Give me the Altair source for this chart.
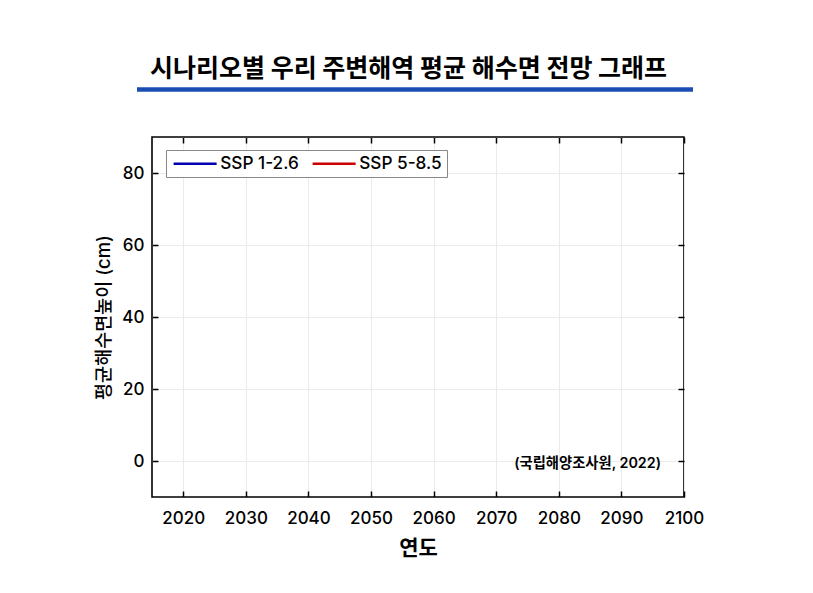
import altair as alt
import pandas as pd

# ---- data (the reference shows an empty plot: no series points are drawn) ----
series = ["SSP 1-2.6", "SSP 5-8.5"]
colors = ["#0000b0", "#cc0000"]
years_126 = []
values_126 = []
years_585 = []
values_585 = []
x_ticks = [2020, 2030, 2040, 2050, 2060, 2070, 2080, 2090, 2100]
y_ticks = [0, 20, 40, 60, 80]
x_domain = [2015, 2100]
y_domain = [-10, 90]

title_text = "시나리오별 우리 주변해역 평균 해수면 전망 그래프"
source_text = "(국립해양조사원, 2022)"

df = pd.DataFrame({
    "year": pd.Series(years_126 + years_585, dtype=float),
    "value": pd.Series(values_126 + values_585, dtype=float),
    "scenario": pd.Series([series[0]] * len(years_126) + [series[1]] * len(years_585), dtype=object),
})

NUM_FONT = "Inter, Noto Sans CJK KR"
KR_FONT = "Noto Sans CJK KR"

xs = alt.Scale(domain=x_domain, nice=False, zero=False)
ys = alt.Scale(domain=y_domain, nice=False, zero=False)

# main layer: lines, grid, labels, titles, legend
lines = alt.Chart(df).mark_line(strokeWidth=2.5).encode(
    x=alt.X("year:Q", scale=xs, axis=alt.Axis(
        orient="bottom", values=x_ticks, grid=True, gridColor="#ebebeb",
        ticks=False, tickSize=0, domain=False, labelFlush=False, labelOverlap=False,
        labelPadding=13, labelFont=NUM_FONT, labelFontSize=17, labelFontWeight=500,
        labelColor="#000", format="d", title="연도", titleFont=KR_FONT, titleFontSize=21,
        titleFontWeight="bold", titleColor="#000", titlePadding=11)),
    y=alt.Y("value:Q", scale=ys, axis=alt.Axis(
        orient="left", values=y_ticks, grid=True, gridColor="#ebebeb",
        ticks=False, tickSize=0, domain=False, labelFlush=False, labelOverlap=False,
        labelPadding=8, labelFont=NUM_FONT, labelFontSize=17, labelFontWeight=500,
        labelColor="#000",
        title="평균해수면높이 (cm)", titleFont=NUM_FONT, titleFontSize=18.5,
        titleFontWeight=500, titleColor="#000", titlePadding=8)),
    color=alt.Color("scenario:N", scale=alt.Scale(domain=series, range=colors),
                    legend=alt.Legend(
                        title=None, orient="none", legendX=14, legendY=13,
                        direction="horizontal", columns=2,
                        symbolType="M-1,0H6.17", symbolSize=144, symbolStrokeWidth=2.5,
                        labelOffset=32, columnPadding=8,
                        labelFont=NUM_FONT, labelFontSize=17.2, labelFontWeight=500,
                        labelColor="#000",
                        padding=5, strokeColor="#888888", fillColor="#ffffff")),
)

inward = alt.ExprRef("-6")

# inward ticks on bottom/left
ticks_bl = alt.Chart(df).mark_line().encode(
    x=alt.X("year:Q", scale=xs, axis=alt.Axis(
        orient="bottom", values=x_ticks, tickSize=inward, ticks=True,
        tickColor="#000", tickWidth=1.5, labels=False, domain=False, grid=False, title=None)),
    y=alt.Y("value:Q", scale=ys, axis=alt.Axis(
        orient="left", values=y_ticks, tickSize=inward, ticks=True,
        tickColor="#000", tickWidth=1.5, labels=False, domain=False, grid=False, title=None)),
)

# inward ticks on top/right
ticks_tr = alt.Chart(df).mark_line().encode(
    x=alt.X("year:Q", scale=xs, axis=alt.Axis(
        orient="top", values=x_ticks, tickSize=inward, ticks=True,
        tickColor="#000", tickWidth=1.5, labels=False, domain=False, grid=False, title=None)),
    y=alt.Y("value:Q", scale=ys, axis=alt.Axis(
        orient="right", values=y_ticks, tickSize=inward, ticks=True,
        tickColor="#000", tickWidth=1.5, labels=False, domain=False, grid=False, title=None)),
)

one = alt.Data(values=[{}])

title_mark = alt.Chart(one).mark_text(
    align="left", baseline="middle", font=KR_FONT, fontSize=25, fontWeight="bold", color="#000"
).encode(x=alt.value(-2), y=alt.value(-68), text=alt.value(title_text))

bar = alt.Chart(one).mark_rule(color="#1a4cb4", strokeWidth=4.5).encode(
    x=alt.value(-15), x2=alt.value(541), y=alt.value(-47.5))

source_mark = alt.Chart(one).mark_text(
    align="right", baseline="middle", font=NUM_FONT, fontSize=14.3, fontWeight=600, color="#000"
).encode(x=alt.value(509), y=alt.value(327), text=alt.value(source_text))

chart = alt.layer(lines, ticks_bl, ticks_tr, title_mark, bar, source_mark).resolve_axis(
    x="independent", y="independent"
).properties(
    width=532, height=360,
    autosize=alt.AutoSizeParams(type="none"),
    padding={"left": 144, "top": 129, "right": 121, "bottom": 88},
    background="white",
).configure_view(stroke="#000", strokeWidth=1.6)

chart.save("out.html", embed_options={"renderer": "svg", "actions": False})
